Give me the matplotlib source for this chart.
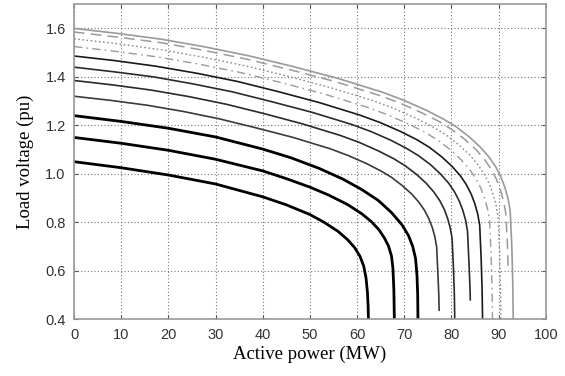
import numpy as np
import matplotlib
matplotlib.use("Agg")
import matplotlib.pyplot as plt

# PV curves (active power in MW, load voltage in pu)
p_gray = [0, 9.31, 18.62, 27.93, 37.24, 46.55, 55.86, 65.17, 69.83, 74.48, 78.2, 81.0, 83.79, 86.12,
          87.98, 89.38, 90.49, 91.33, 91.98, 92.45, 92.8, 93.0, 93.1]
v_gray = [1.6, 1.579, 1.555, 1.523, 1.486, 1.442, 1.394, 1.338, 1.304, 1.264, 1.227, 1.194, 1.152, 1.110,
          1.069, 1.029, 0.987, 0.944, 0.899, 0.848, 0.70, 0.55, 0.4]

p_dash = [0, 9.21, 18.42, 27.63, 36.84, 46.05, 55.26, 64.47, 69.08, 73.68, 77.36, 80.13, 82.89, 85.19,
          87.03, 88.42, 89.52, 90.35, 91.0, 91.5, 91.85, 92.0]
v_dash = [1.585, 1.564, 1.541, 1.509, 1.472, 1.428, 1.381, 1.325, 1.292, 1.252, 1.216, 1.182, 1.141, 1.100,
          1.059, 1.019, 0.978, 0.935, 0.891, 0.840, 0.72, 0.62]

p_dot = [0, 9.05, 18.1, 27.15, 36.2, 45.25, 54.3, 63.35, 67.88, 72.4, 76.02, 78.74, 81.45, 83.71,
         85.52, 86.88, 87.97, 88.78, 89.41, 89.87, 90.22, 90.42, 90.5]
v_dot = [1.557, 1.537, 1.513, 1.482, 1.446, 1.403, 1.356, 1.302, 1.269, 1.230, 1.194, 1.162, 1.121, 1.081,
         1.040, 1.001, 0.961, 0.919, 0.875, 0.825, 0.67, 0.52, 0.4]

p_dashdot = [0, 8.87, 17.74, 26.61, 35.48, 44.35, 53.22, 62.09, 66.53, 70.96, 74.51, 77.17, 79.83, 82.05,
             83.82, 85.15, 86.22, 87.01, 87.64, 88.08, 88.42, 88.62, 88.7]
v_dashdot = [1.525, 1.505, 1.482, 1.452, 1.417, 1.374, 1.328, 1.275, 1.243, 1.205, 1.170, 1.138, 1.098, 1.058,
             1.019, 0.981, 0.941, 0.900, 0.857, 0.808, 0.66, 0.52, 0.4]

p_c1 = [0, 8.66, 17.32, 25.98, 34.64, 43.3, 51.96, 60.62, 64.95, 69.28, 72.74, 75.34, 77.94, 80.11,
        81.84, 83.14, 84.17, 84.95, 85.56, 85.99, 86.3, 86.5, 86.6]
v_c1 = [1.486, 1.467, 1.444, 1.415, 1.381, 1.339, 1.294, 1.242, 1.211, 1.174, 1.140, 1.109, 1.070, 1.031,
        0.993, 0.956, 0.917, 0.877, 0.835, 0.788, 0.65, 0.52, 0.4]

p_c2 = [0, 8.4, 16.8, 25.2, 33.6, 42.0, 50.4, 58.8, 63.0, 67.2, 70.56, 73.08, 75.6, 77.7,
        79.38, 80.64, 81.65, 82.4, 83.0, 83.41, 83.75, 83.95, 84.0]
v_c2 = [1.44, 1.421, 1.400, 1.371, 1.338, 1.297, 1.254, 1.204, 1.174, 1.138, 1.104, 1.074, 1.037, 0.999,
        0.962, 0.926, 0.888, 0.850, 0.809, 0.763, 0.62, 0.52, 0.48]

p_c3 = [0, 8.07, 16.14, 24.21, 32.28, 40.35, 48.42, 56.49, 60.53, 64.56, 67.79, 70.21, 72.63, 74.65,
        76.26, 77.47, 78.44, 79.17, 79.73, 80.14, 80.45, 80.62, 80.7]
v_c3 = [1.385, 1.367, 1.346, 1.319, 1.287, 1.248, 1.206, 1.158, 1.129, 1.094, 1.062, 1.033, 0.997, 0.961,
        0.925, 0.891, 0.855, 0.817, 0.778, 0.734, 0.60, 0.5, 0.4]

p_c4 = [0, 7.74, 15.48, 23.22, 30.96, 38.7, 46.44, 54.18, 58.05, 61.92, 65.02, 67.34, 69.66, 71.6,
        73.14, 74.3, 75.23, 75.93, 76.47, 76.86, 77.15, 77.32, 77.4]
v_c4 = [1.32, 1.303, 1.283, 1.257, 1.226, 1.189, 1.150, 1.104, 1.076, 1.043, 1.012, 0.985, 0.950, 0.916,
        0.882, 0.849, 0.814, 0.779, 0.742, 0.70, 0.58, 0.5, 0.437]

p_t1 = [0, 10, 20, 30, 40, 46, 52, 57, 61, 64.5, 67.3, 69.5, 70.9, 71.8, 72.4, 72.7, 72.85, 72.9]
v_t1 = [1.24, 1.216, 1.188, 1.152, 1.102, 1.066, 1.022, 0.978, 0.935, 0.89, 0.84, 0.79, 0.745, 0.70,
        0.65, 0.58, 0.50, 0.40]

p_t2 = [0, 10, 20, 30, 40, 45, 50, 54, 58, 61, 63, 64.6, 65.8, 66.7, 67.3, 67.6, 67.8, 67.9]
v_t2 = [1.15, 1.126, 1.097, 1.06, 1.012, 0.98, 0.945, 0.912, 0.873, 0.835, 0.803, 0.77, 0.735, 0.70,
        0.66, 0.61, 0.52, 0.40]

p_t3 = [0, 10, 20, 30, 40, 45, 50, 53, 56, 58, 59.5, 60.6, 61.4, 61.9, 62.2, 62.35, 62.4]
v_t3 = [1.05, 1.025, 0.995, 0.958, 0.905, 0.872, 0.832, 0.80, 0.762, 0.728, 0.695, 0.66, 0.62, 0.57,
        0.51, 0.45, 0.40]

x_ticks = [0, 10, 20, 30, 40, 50, 60, 70, 80, 90, 100]
y_ticks = [0.4, 0.6, 0.8, 1.0, 1.2, 1.4, 1.6]

fig = plt.figure(figsize=(5.65, 3.76), dpi=100)
ax = fig.add_axes([0.131, 0.151, 0.835, 0.838])

ax.plot(p_gray, v_gray, color='#9a9a9a', lw=1.2)
ax.plot(p_dash, v_dash, color='#9a9a9a', lw=1.1, dashes=(7, 4))
ax.plot(p_dot, v_dot, color='#8a8a8a', lw=1.0, dashes=(1.2, 1.8))
ax.plot(p_dashdot, v_dashdot, color='#9a9a9a', lw=1.0, dashes=(6, 3, 1.2, 3))
ax.plot(p_c1, v_c1, color='#1a1a1a', lw=1.2)
ax.plot(p_c2, v_c2, color='#2a2a2a', lw=1.2)
ax.plot(p_c3, v_c3, color='#2a2a2a', lw=1.2)
ax.plot(p_c4, v_c4, color='#3a3a3a', lw=1.2)
ax.plot(p_t1, v_t1, color='black', lw=2.0)
ax.plot(p_t2, v_t2, color='black', lw=2.0)
ax.plot(p_t3, v_t3, color='black', lw=2.0)

ax.set_xlim(0, 100)
ax.set_ylim(0.4, 1.7)
ax.set_xticks(x_ticks)
ax.set_yticks(y_ticks)
ax.set_yticklabels(['%.1f' % y for y in y_ticks])
ax.grid(True, color='#777777', linestyle=(0, (1, 2)), lw=0.8)
ax.tick_params(direction='in', length=3, labelsize=10.5, color='#555555', pad=6,
               top=True, right=True, labelcolor='#333333')
for lab in ax.get_xticklabels() + ax.get_yticklabels():
    lab.set_family('Liberation Sans')
for s in ax.spines.values():
    s.set_color('#999999')
    s.set_linewidth(1.2)

ax.set_xlabel('Active power (MW)', family='Liberation Serif', fontsize=13.5, labelpad=3)
ax.set_ylabel('Load voltage (pu)', family='Liberation Serif', fontsize=13.5, labelpad=8)

plt.savefig('out.png', dpi=100)
